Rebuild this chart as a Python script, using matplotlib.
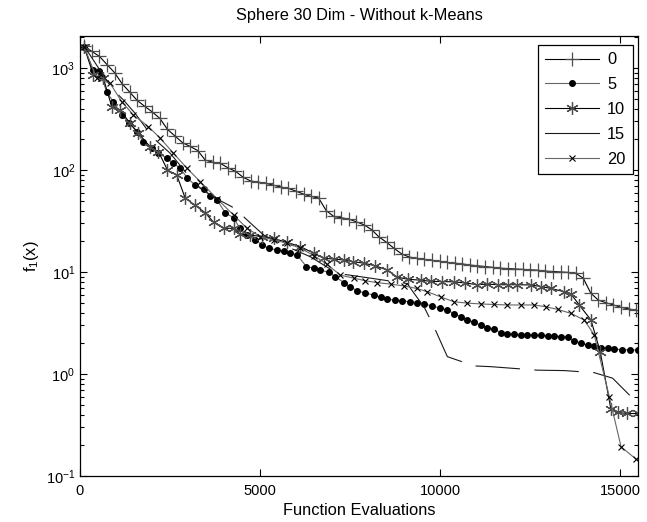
import matplotlib
matplotlib.use('Agg')
import matplotlib.pyplot as plt

plt.rcParams['font.family'] = ['Liberation Sans', 'DejaVu Sans']
plt.rcParams['mathtext.default'] = 'regular'
plt.rcParams['font.size'] = 10.5

labels = ['0', '5', '10', '15', '20']

# series 0 (+)
x_0 = [120, 330, 540, 750, 960, 1170, 1380, 1590, 1800, 2010, 2220, 2430, 2640, 2850,
       3060, 3270, 3480, 3690, 3900, 4110, 4320, 4530, 4740, 4950, 5160, 5370, 5580,
       5790, 6000, 6210, 6420, 6630, 6840, 7050, 7260, 7470, 7680, 7890, 8100, 8310,
       8520, 8730, 8940, 9150, 9360, 9570, 9780, 9990, 10200, 10410, 10620, 10830,
       11040, 11250, 11460, 11670, 11880, 12090, 12300, 12510, 12720, 12930, 13140,
       13350, 13560, 13770, 13980, 14190, 14400, 14610, 14820, 15030, 15240, 15450]
f_0 = [1650, 1450, 1300, 1080, 900, 700, 580, 480, 420, 370, 320, 250, 215, 185,
       170, 155, 125, 119, 116, 105, 97, 85, 78, 76, 74, 71, 68,
       66, 62, 58, 55, 53, 40, 35, 34, 33, 31, 29, 26, 22,
       19.5, 17, 15, 14, 13.6, 13.3, 13, 12.7, 12.4, 12.2, 12, 11.7,
       11.5, 11.3, 11.1, 10.9, 10.8, 10.7, 10.6, 10.5, 10.4, 10.2, 10.1,
       10, 9.9, 9.7, 8.7, 6.2, 5.3, 5.0, 4.75, 4.5, 4.35, 4.2]

# series 5 (dots)
x_5 = [120, 353, 538, 603, 742, 928, 1160, 1373, 1577, 1763, 1995, 2180, 2412, 2598,
       2783, 2987, 3200, 3432, 3618, 3804, 4036, 4267, 4434, 4639, 4871, 5057, 5241,
       5474, 5660, 5845, 6030, 6290, 6494, 6680, 6911, 7097, 7329, 7515, 7700, 7930,
       8163, 8350, 8535, 8740, 8952, 9160, 9370, 9555, 9788, 9995, 10205, 10390, 10576,
       10762, 10950, 11133, 11320, 11503, 11690, 11876, 12060, 12246, 12430, 12617,
       12800, 12990, 13175, 13360, 13545, 13730, 13916, 14102, 14287, 14472, 14657,
       14843, 15060, 15280, 15494]
f_5 = [1600, 955, 935, 822, 578, 468, 346, 287, 238, 186, 163, 146, 130, 116,
       104, 83, 71, 65, 56, 51, 38, 34, 27, 23, 20.6, 18.4, 17.1,
       16.4, 16, 15.3, 14.7, 11.3, 10.9, 10.45, 9.9, 9.0, 7.86, 7.1, 6.56, 6.2,
       5.95, 5.65, 5.4, 5.3, 5.23, 5.1, 5.0, 4.86, 4.64, 4.45, 4.24, 3.9, 3.65,
       3.38, 3.2, 3.0, 2.85, 2.75, 2.55, 2.48, 2.44, 2.41, 2.40, 2.39,
       2.39, 2.38, 2.36, 2.33, 2.30, 2.12, 2.0, 1.92, 1.86, 1.81, 1.78,
       1.75, 1.73, 1.72, 1.72]

# series 10 (asterisk)
x_10 = [120, 371, 650, 882, 1113, 1391, 1623, 1948, 2180, 2430, 2690, 2922, 3200,
        3479, 3711, 3989, 4267, 4453, 4731, 5057, 5380, 5753, 6123, 6494, 6772, 7050,
        7329, 7585, 7885, 8200, 8535, 8814, 9100, 9463, 9750, 10050, 10390, 10700,
        11040, 11320, 11600, 11880, 12153, 12524, 12800, 13081, 13452, 13638, 13870,
        14195, 14453, 14750, 14936, 15200, 15494]
f_10 = [1600, 853, 793, 418, 387, 287, 229, 169, 151, 100, 89, 53, 45,
        38, 30.7, 26.8, 26.8, 23.5, 23, 22.2, 21.3, 19.5, 17.7, 15.3, 13.6, 13.4,
        13.1, 12.6, 12.2, 11.5, 10.45, 8.9, 8.5, 8.3, 8.1, 8.05, 8.0, 7.8,
        7.5, 7.6, 7.5, 7.5, 7.5, 7.46, 7.2, 6.9, 6.4, 6.1, 4.75,
        3.38, 1.65, 0.45, 0.42, 0.41, 0.41]

# series 15 (plain line)
x_15 = [120, 278, 600, 882, 1206, 1531, 2041, 2505, 2970, 3340, 3804, 4221, 4545,
        5102, 5753, 6401, 7144, 8070, 9092, 9277, 9555, 9833, 10020, 10205, 10947,
        11411, 12710, 13452, 14287, 14796, 15307, 15494]
f_15 = [1600, 1340, 900, 632, 486, 359, 205, 146, 92, 66, 52, 43.6, 34.8,
        23, 17.7, 14.1, 9.7, 8.7, 7.7, 6.2, 4.57, 2.91, 2.07, 1.48, 1.2,
        1.18, 1.09, 1.08, 1.03, 0.91, 0.6, 0.48]

# series 20 (x)
x_20 = [120, 464, 835, 1160, 1484, 1901, 2227, 2598, 2970, 3340, 3804, 4267, 4639,
        5010, 5380, 5753, 6123, 6494, 6850, 7236, 7607, 7930, 8258, 8630, 8998, 9350,
        9649, 10020, 10390, 10760, 11133, 11500, 11876, 12250, 12617, 12950, 13267,
        13638, 14009, 14287, 14704, 15030, 15447]
f_20 = [1600, 793, 707, 468, 346, 266, 205, 146, 104, 77, 52.3, 36.2, 26.8,
        22.2, 20.6, 19.1, 17.1, 14.5, 12, 9.3, 8.7, 8.2, 7.86, 7.6, 7.3, 6.9,
        6.4, 5.7, 5.1, 4.95, 4.86, 4.8, 4.75, 4.75, 4.75, 4.55, 4.3,
        3.93, 3.38, 2.41, 0.6, 0.194, 0.146]

fig = plt.figure(figsize=(6.47, 5.22), dpi=100)
ax = fig.add_axes([0.1236, 0.0881, 0.8624, 0.8435])

lw = 0.8
ax.plot(x_0, f_0, color='k', lw=lw, marker='+', ms=10, mew=0.9, mec='0.3', label=labels[0])
ax.plot(x_5, f_5, color='0.4', lw=lw, marker='o', ms=4, mfc='k', mec='k', label=labels[1])
ax.plot(x_10, f_10, color='k', lw=lw, marker=(6, 2, 0), ms=9, mew=0.9, mec='0.3', label=labels[2])
ax.plot(x_15, f_15, color='0.1', lw=lw, dashes=(40, 13), label=labels[3])
ax.plot(x_20, f_20, color='0.4', lw=lw, marker='x', ms=4.5, mew=0.8, mec='k', label=labels[4])

ax.set_yscale('log')
ax.set_xlim(0, 15500)
ax.set_ylim(0.1, 2070)
ax.set_xticks([0, 5000, 10000, 15000])
ax.tick_params(which='both', direction='in', top=True, right=True, width=0.8)
ax.tick_params(which='major', length=5)
ax.tick_params(which='minor', length=3)
ax.tick_params(axis='x', pad=5.5)
for s in ax.spines.values():
    s.set_linewidth(0.9)

ax.set_title('Sphere 30 Dim - Without k-Means', fontsize=11.8, pad=11.5)
ax.set_xlabel('Function Evaluations', fontsize=11.8, labelpad=3.5)
ax.set_ylabel('f$_1$(x)', fontsize=11.8, labelpad=3)

leg = ax.legend(loc='upper right', bbox_to_anchor=(0.991, 0.979), borderaxespad=0,
                fancybox=False, edgecolor='k', framealpha=1, handlelength=3.3,
                handletextpad=0.5, labelspacing=0.6, borderpad=0.45, fontsize=11.8)
leg.get_frame().set_linewidth(0.9)
leg.get_lines()[3].set_linestyle('-')

fig.savefig('out.png', dpi=100)
